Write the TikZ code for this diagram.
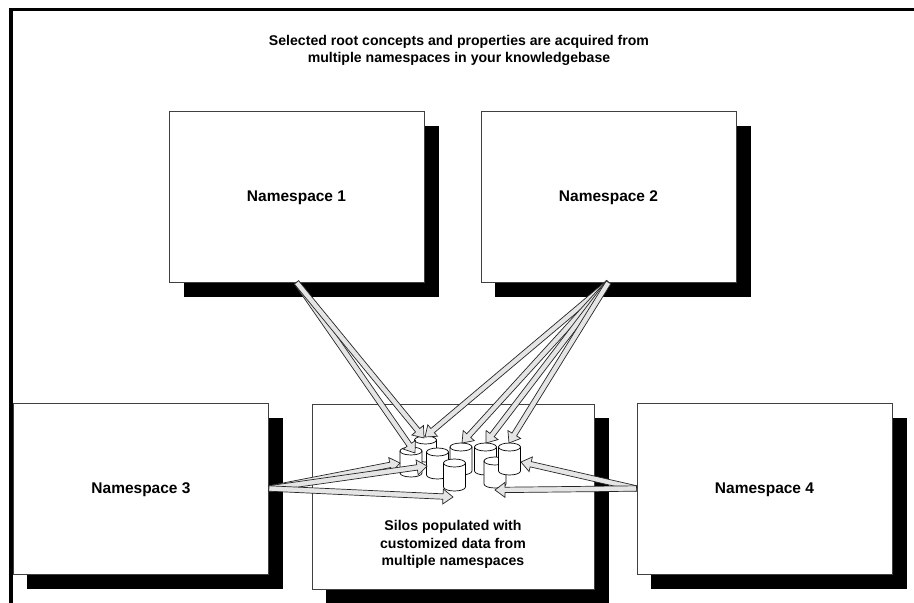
\documentclass[tikz,border=0pt]{standalone}
\usepackage{fontspec}
\setmainfont{Liberation Sans}
\usetikzlibrary{calc}
\tikzset{
  x=1pt,y=-1pt,
  nsbox/.style={draw=black!75,line width=0.8pt,fill=white,inner sep=0pt,font=\fontsize{15.5}{18}\selectfont\bfseries,text height=13.4pt,text depth=3.3pt},
  shadowbox/.style={fill=black,draw=none},
  frameline/.style={fill=black,draw=none},
  label/.style={font=\fontsize{14.1}{17.6}\selectfont\bfseries,align=center,inner sep=0pt},
  silo/.style={draw=black,line width=0.7pt,fill=white,line join=round},
  fatarrow/.style={draw=black!85,line width=0.7pt,fill=black!10,line join=miter}
}
\newcommand{\silonode}[4]{% name, centre x, top-ellipse centre y, bottom-ellipse centre y
  \draw[silo] (#2-11,#3) -- (#2-11,#4) arc[start angle=180,end angle=360,x radius=11pt,y radius=4pt] -- (#2+11,#3) -- cycle;
  \draw[silo] (#2,#3) ellipse[x radius=11pt,y radius=4pt];
  \coordinate (#1) at (#2,#3);}
\newcommand{\fatarrow}[2]{%
  \coordinate (hb) at ($(#2)!10pt!(#1)$);
  \coordinate (s1) at ($(hb)!2.7pt!90:(#2)$);
  \coordinate (s2) at ($(hb)!2.7pt!-90:(#2)$);
  \coordinate (b1) at ($(hb)!7.5pt!90:(#2)$);
  \coordinate (b2) at ($(hb)!7.5pt!-90:(#2)$);
  \coordinate (e1) at ($(#1)!2.7pt!90:(#2)$);
  \coordinate (e2) at ($(#1)!2.7pt!-90:(#2)$);
  \draw[fatarrow] (e1) -- (s1) -- (b1) -- (#2) -- (b2) -- (s2) -- (e2) -- cycle;}
\begin{document}
\begin{tikzpicture}
\useasboundingbox (0,0) rectangle (914,603);
\fill[white] (0,0) rectangle (914,603);
% outer frame
\fill[frameline] (9,8) rectangle (914,11);
\fill[frameline] (9,8) rectangle (12.5,603);
% shadows
\fill[shadowbox] (184,126) rectangle (439,297);
\fill[shadowbox] (495,126) rectangle (751,297);
\fill[shadowbox] (27,418) rectangle (283,589);
\fill[shadowbox] (326,418) rectangle (609,603);
\fill[shadowbox] (651,418) rectangle (907,589);
% boxes
\node[nsbox,minimum width=255pt,minimum height=171pt] (ns1) at (296.5,196.5) {Namespace 1};
\node[nsbox,minimum width=255pt,minimum height=171pt] (ns2) at (608.5,196.5) {Namespace 2};
\node[nsbox,minimum width=255pt,minimum height=171pt] (ns3) at (141,488.5) {Namespace 3};
\node[nsbox,minimum width=255pt,minimum height=171pt] (ns4) at (764.5,488.5) {Namespace 4};
\node[nsbox,minimum width=282pt,minimum height=185pt] (mid) at (453,496.5) {};
% labels
\node[label] (title) at (459,50.5) {Selected root concepts and properties are acquired from\\multiple namespaces in your knowledgebase};
\node[label] (silotext) at (453,544.5) {Silos populated with\\customized data from\\multiple namespaces};
% silos
\silonode{c1}{425.5}{440}{458}
\silonode{c2}{411}{451}{473}
\silonode{c3}{437.5}{452}{475}
\silonode{c5}{461}{447}{471}
\silonode{c6}{485.5}{447}{471}
\silonode{c7}{495}{461}{484}
\silonode{c8}{509.5}{447}{471}
\silonode{c4}{454.5}{463}{487}
% arrow tips
\coordinate (t1a) at (415,453);
\coordinate (t1b) at (424,438);
\coordinate (t2a) at (425,437);
\coordinate (t2b) at (462,443);
\coordinate (t2c) at (486,443);
\coordinate (t2d) at (509,443);
\coordinate (t3a) at (400,463);
\coordinate (t3b) at (427,466);
\coordinate (t3c) at (453,497);
\coordinate (t4a) at (521,462);
\coordinate (t4b) at (495,490);
% arrows
\fatarrow{ns1.south}{t1a}
\fatarrow{ns1.south}{t1b}
\fatarrow{ns2.south}{t2a}
\fatarrow{ns2.south}{t2b}
\fatarrow{ns2.south}{t2c}
\fatarrow{ns2.south}{t2d}
\fatarrow{ns3.east}{t3a}
\fatarrow{ns3.east}{t3b}
\fatarrow{ns3.east}{t3c}
\fatarrow{ns4.west}{t4a}
\fatarrow{ns4.west}{t4b}
\end{tikzpicture}
\end{document}
